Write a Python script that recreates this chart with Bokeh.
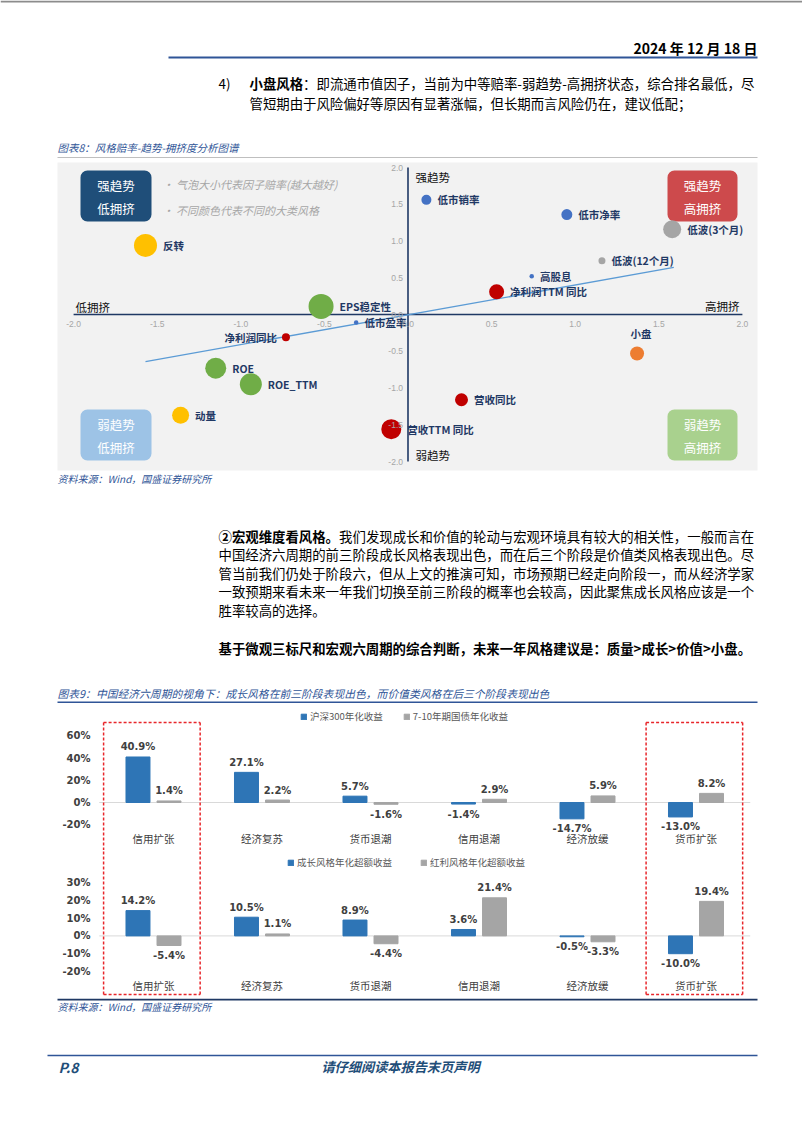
import pandas as pd
from bokeh.plotting import figure
from bokeh.models import (ColumnDataSource, Range1d, BoxAnnotation, LinearAxis,
                          FixedTicker, PrintfTickFormatter)
from bokeh.layouts import column
from bokeh.core.properties import value
from bokeh.embed import file_html
from bokeh.resources import INLINE

FONT = value("Noto Sans CJK SC")
NUMFONT = value("DejaVu Sans")
PAGE_W = 802

# ---------------- Chart 8 data (风格赔率-趋势-拥挤度) ----------------
factor_names = ["反转", "EPS稳定性", "低市销率", "低市净率", "低波(3个月)", "低波(12个月)",
                "高股息", "净利润TTM 同比", "低市盈率", "净利润同比", "ROE", "ROE_TTM",
                "动量", "营收TTM 同比", "营收同比", "小盘"]
crowding = [-1.57, -0.52, 0.11, 0.95, 1.58, 1.16, 0.74, 0.53, -0.31, -0.73, -1.15, -0.94,
            -1.36, -0.10, 0.32, 1.37]
trend_score = [0.94, 0.11, 1.56, 1.36, 1.16, 0.73, 0.52, 0.31, -0.11, -0.31, -0.73, -0.95,
               -1.37, -1.56, -1.16, -0.53]
odds = [2.3, 2.5, 1.0, 1.1, 1.8, 0.7, 0.45, 1.5, 0.45, 0.8, 2.1, 2.2, 1.7, 2.0, 1.3, 1.4]
style_class = ["动量反转", "质量", "价值", "价值", "低波", "低波", "价值", "成长", "价值", "成长",
               "质量", "质量", "动量反转", "成长", "成长", "规模"]
trend_fit_x = [-1.57, 1.59]
trend_fit_y = [-0.64, 0.64]
axis_ticks8 = [-2.0, -1.5, -1.0, -0.5, 0.0, 0.5, 1.0, 1.5, 2.0]

# ---------------- Chart 9 data (中国经济六周期) ----------------
phases = ["信用扩张", "经济复苏", "货币退潮", "信用退潮", "经济放缓", "货币扩张"]
hs300_ret = [40.9, 27.1, 5.7, -1.4, -14.7, -13.0]
bond_ret = [1.4, 2.2, -1.6, 2.9, 5.9, 8.2]
growth_excess = [14.2, 10.5, 8.9, 3.6, -0.5, -10.0]
dividend_excess = [-5.4, 1.1, -4.4, 21.4, -3.3, 19.4]
highlight_phases = ["信用扩张", "货币扩张"]
ticks9a = [-20, 0, 20, 40, 60]
ticks9b = [-20, -10, 0, 10, 20, 30]

# ---------------- styles ----------------
class_colors = {"动量反转": "#ffc000", "质量": "#70ad47", "价值": "#4472c4",
                "低波": "#a5a5a5", "成长": "#c00000", "规模": "#ed7d31"}
label_side = {"净利润同比": "left", "小盘": "above"}
BLUE_T = "#2f5597"
NAVY = "#1f3864"


def base_fig(xr, yr, h):
    p = figure(width=PAGE_W, height=h, x_range=xr, y_range=yr, output_backend="svg",
               toolbar_location=None, x_axis_location=None, y_axis_location=None,
               min_border=0, outline_line_color=None)
    p.grid.grid_line_color = None
    return p


def text_fig(top, bottom):
    return base_fig(Range1d(0, PAGE_W), Range1d(bottom, top), bottom - top)


def put(p, x, y, s, size, color="#000000", style="normal", align="left", font=FONT):
    p.text(x=[x], y=[y], text=[s], text_font=font, text_font_size=f"{size}px",
           text_font_style=style, text_color=color, text_align=align, text_baseline="middle")


def hline(p, x0, x1, y, color, w):
    p.segment(x0=[x0], y0=[y], x1=[x1], y1=[y], line_color=color, line_width=w)


FS = 13.4
# ---------------- Header ----------------
pA = text_fig(0, 160)
hline(pA, 0, PAGE_W, 1, "#8c8c8c", 2)
put(pA, 757, 47, "2024 年 12 月 18 日", 14, style="bold", align="right")
hline(pA, 168, 757, 57, BLUE_T, 2)
put(pA, 218, 82, "4)", FS)
put(pA, 249, 82, "小盘风格", FS, style="bold")
put(pA, 249 + 4 * FS, 82, "：即流通市值因子，当前为中等赔率-弱趋势-高拥挤状态，综合排名最低，尽", FS)
put(pA, 249, 102, "管短期由于风险偏好等原因有显著涨幅，但长期而言风险仍在，建议低配；", FS)
put(pA, 57, 147, "图表8：风格赔率-趋势-拥挤度分析图谱", 10.5, color=BLUE_T, style="italic")
hline(pA, 57, 757, 157, "#bfbfbf", 1)

# ---------------- Chart 8 bubble chart ----------------
X0, KX, Y0, KY = 407.5, 167.2, 314.0, 73.5


def sx(px):
    return (px - X0) / KX


def sy(py):
    return (Y0 - py) / KY


p8 = base_fig(Range1d(sx(0), sx(PAGE_W)), Range1d(sy(472), sy(160)), 312)
p8.add_layout(BoxAnnotation(left=sx(57), right=sx(757), top=sy(162), bottom=sy(470),
                            fill_color="#f2f2f2", fill_alpha=1, line_color=None, level="underlay"))

quads = [(80, 151, 170, 221, "#1f4e79", "强趋势", "低拥挤"),
         (667, 737, 170, 221, "#cd4a4c", "强趋势", "高拥挤"),
         (80, 151, 409, 460, "#9dc3e6", "弱趋势", "低拥挤"),
         (667, 737, 409, 460, "#a9d18e", "弱趋势", "高拥挤")]
for l, r, t, b, c, s1, s2 in quads:
    p8.add_layout(BoxAnnotation(left=sx(l), right=sx(r), top=sy(t), bottom=sy(b),
                                fill_color=c, fill_alpha=1, line_color=None,
                                border_radius=7, level="underlay"))
    cx = sx((l + r) / 2)
    put(p8, cx, sy(t + 15), s1, 12.5, color="white", align="center")
    put(p8, cx, sy(t + 38), s2, 12.5, color="white", align="center")

put(p8, sx(162), sy(183), "·  气泡大小代表因子赔率(越大越好)", 11, color="#a6a6a6", style="italic")
put(p8, sx(162), sy(209), "·  不同颜色代表不同的大类风格", 11, color="#a6a6a6", style="italic")

amin, amax = axis_ticks8[0], axis_ticks8[-1]
p8.segment(x0=[amin, 0], y0=[0, amin], x1=[amax, 0], y1=[0, amax], line_color=NAVY, line_width=1.6)

for side in ["below", "left"]:
    ax = LinearAxis(fixed_location=0, ticker=FixedTicker(ticks=axis_ticks8),
                    formatter=PrintfTickFormatter(format="%.1f"), axis_line_color=None,
                    major_tick_line_color=None, minor_tick_line_color=None,
                    major_tick_in=0, major_tick_out=0,
                    major_label_text_color="#a6a6a6", major_label_text_font_size="8.5px",
                    major_label_text_font="Liberation Sans",
                    major_label_standoff=6 if side == "below" else 5)
    p8.add_layout(ax, side)

put(p8, sx(75), sy(306), "低拥挤", 11.5, color="#111111")
put(p8, sx(739), sy(305), "高拥挤", 11.5, color="#111111", align="right")
put(p8, sx(415), sy(176), "强趋势", 11.5, color="#111111")
put(p8, sx(415), sy(454), "弱趋势", 11.5, color="#111111")

p8.line(trend_fit_x, trend_fit_y, line_color="#5b9bd5", line_width=1.3)

df8 = pd.DataFrame(dict(name=factor_names, x=crowding, y=trend_score, odds=odds, cls=style_class))
df8["size"] = df8["odds"] * 10
df8["color"] = df8["cls"].map(class_colors)
df8["side"] = df8["name"].map(lambda n: label_side.get(n, "right"))
p8.scatter("x", "y", size="size", fill_color="color", line_color=None, source=ColumnDataSource(df8))

for side, align in [("right", "left"), ("left", "right"), ("above", "center")]:
    sub = df8[df8["side"] == side].copy()
    if side == "right":
        sub["xo"] = sub["size"] / 2 + 6
        sub["yo"] = 0.0
    elif side == "left":
        sub["xo"] = -(sub["size"] / 2 + 5)
        sub["yo"] = 0.0
    else:
        sub["xo"] = 4.0
        sub["yo"] = -(sub["size"] / 2 + 13)
    p8.text(x="x", y="y", text="name", x_offset="xo", y_offset="yo", source=ColumnDataSource(sub),
            text_font=FONT, text_font_size="10.5px", text_font_style="bold", text_color=NAVY,
            text_align=align, text_baseline="middle")

# ---------------- Middle text ----------------
pC = text_fig(472, 703)
put(pC, 57, 478, "资料来源：Wind，国盛证券研究所", 10, color=BLUE_T, style="italic")
put(pC, 218, 535, "②宏观维度看风格。", FS, style="bold")
put(pC, 218 + 9 * FS, 535, "我们发现成长和价值的轮动与宏观环境具有较大的相关性，一般而言在", FS)
para = ["中国经济六周期的前三阶段成长风格表现出色，而在后三个阶段是价值类风格表现出色。尽",
        "管当前我们仍处于阶段六，但从上文的推演可知，市场预期已经走向阶段一，而从经济学家",
        "一致预期来看未来一年我们切换至前三阶段的概率也会较高，因此聚焦成长风格应该是一个",
        "胜率较高的选择。"]
for i, s in enumerate(para):
    put(pC, 218, 553.5 + i * 18.5, s, FS)
put(pC, 218, 647, "基于微观三标尺和宏观六周期的综合判断，未来一年风格建议是：质量>成长>价值>小盘。",
    FS, style="bold")
put(pC, 57, 692, "图表9：中国经济六周期的视角下：成长风格在前三阶段表现出色，而价值类风格在后三个阶段表现出色",
    10.8, color=BLUE_T, style="italic")
hline(pC, 57, 757, 701.8, BLUE_T, 1.5)

# ---------------- Chart 9 bar charts ----------------
BX0, BK = 153.0, 108.5


def bx(px):
    return (px - BX0) / BK


def bar_fig(top, bottom, zero_py, ppu, ticks, s1, s2, n1, n2, legend_px, legend_cy, legend_spacing,
            cat_py, box_edge_py, box_at_top):
    yr = Range1d(-(bottom - zero_py) / ppu, (zero_py - top) / ppu)
    p = base_fig(Range1d(bx(0), bx(PAGE_W)), yr, bottom - top)
    ax = LinearAxis(fixed_location=bx(99), ticker=FixedTicker(ticks=ticks),
                    formatter=PrintfTickFormatter(format="%d%%"), axis_line_color=None,
                    major_tick_line_color=None, minor_tick_line_color=None,
                    major_tick_in=0, major_tick_out=0, major_label_standoff=9,
                    major_label_text_font="DejaVu Sans", major_label_text_font_style="bold",
                    major_label_text_font_size="10px", major_label_text_color="#404040")
    p.add_layout(ax, "left")

    pos = list(range(len(phases)))
    p.segment(x0=[pos[0] - 0.5], y0=[0], x1=[pos[-1] + 0.5], y1=[0], line_color="#d9d9d9", line_width=1)

    df = pd.DataFrame(dict(phase=phases, pos=pos, a=s1, b=s2))
    df["xa"] = df["pos"] - 0.143
    df["xb"] = df["pos"] + 0.143
    df["a_lbl"] = [f"{v:.1f}%" for v in s1]
    df["b_lbl"] = [f"{v:.1f}%" for v in s2]
    df["a_off"] = [-10 if v >= 0 else 10 for v in s1]
    df["b_off"] = [-10 if v >= 0 else 10 for v in s2]
    src = ColumnDataSource(df)
    p.vbar(x="xa", top="a", width=0.221, color="#2e75b6", source=src, legend_label=n1)
    p.vbar(x="xb", top="b", width=0.221, color="#a5a5a5", source=src, legend_label=n2)
    for col in ["a", "b"]:
        p.text(x="x" + col, y=col, text=col + "_lbl", y_offset=col + "_off",
               source=src, text_font=NUMFONT, text_font_size="10px", text_font_style="bold",
               text_color="#404040", text_align="center", text_baseline="middle")
    cat_y = (zero_py - cat_py) / ppu
    p.text(x="pos", y=cat_y, text="phase", source=src, text_font=FONT, text_font_size="10.5px",
           text_color="#404040", text_align="center", text_baseline="middle")

    lg = p.legend[0]
    lg.orientation = "horizontal"
    lg.location = (legend_px, bottom - (legend_cy + 5))
    lg.label_text_font = "Noto Sans CJK SC"
    lg.label_text_font_size = "9.5px"
    lg.label_text_color = "#595959"
    lg.glyph_width = 7
    lg.glyph_height = 7
    lg.label_height = 10
    lg.label_standoff = 3
    lg.spacing = legend_spacing
    lg.padding = 0
    lg.margin = 0
    lg.border_line_color = None
    lg.background_fill_alpha = 0

    edge = (zero_py - box_edge_py) / ppu
    far = yr.start - 50 if box_at_top else yr.end + 50
    for ph in highlight_phases:
        i = phases.index(ph)
        L, R = i - 0.46, i + 0.43
        p.segment(x0=[L, R, L], y0=[edge, edge, edge], x1=[L, R, R], y1=[far, far, edge],
                  line_color="#e8262b", line_width=1.5, line_dash="3 2")
    return p


pD = bar_fig(703, 850, 802, 1.1125, ticks9a, hs300_ret, bond_ret, "沪深300年化收益",
             "7-10年期国债年化收益", 300, 718, 20, 838, 722, True)
pE = bar_fig(850, 998, 935.4, 1.78, ticks9b, growth_excess, dividend_excess, "成长风格年化超额收益",
             "红利风格年化超额收益", 287, 864, 28, 985, 994, False)

# ---------------- Footer ----------------
pF = text_fig(998, 1130)
hline(pF, 57, 757, 999, NAVY, 2)
put(pF, 57, 1006, "资料来源：Wind，国盛证券研究所", 10, color=BLUE_T, style="italic")
hline(pF, 47, 757, 1055, BLUE_T, 1.5)
put(pF, 58, 1066, "P.8", 14, color="#1f4e79", style="bold italic")
put(pF, 400, 1066, "请仔细阅读本报告末页声明", 13.2, color="#1f4e79", style="bold italic", align="center")

page = column(pA, p8, pC, pD, pE, pF, spacing=0)
open("out.html", "w").write(file_html(page, INLINE))
